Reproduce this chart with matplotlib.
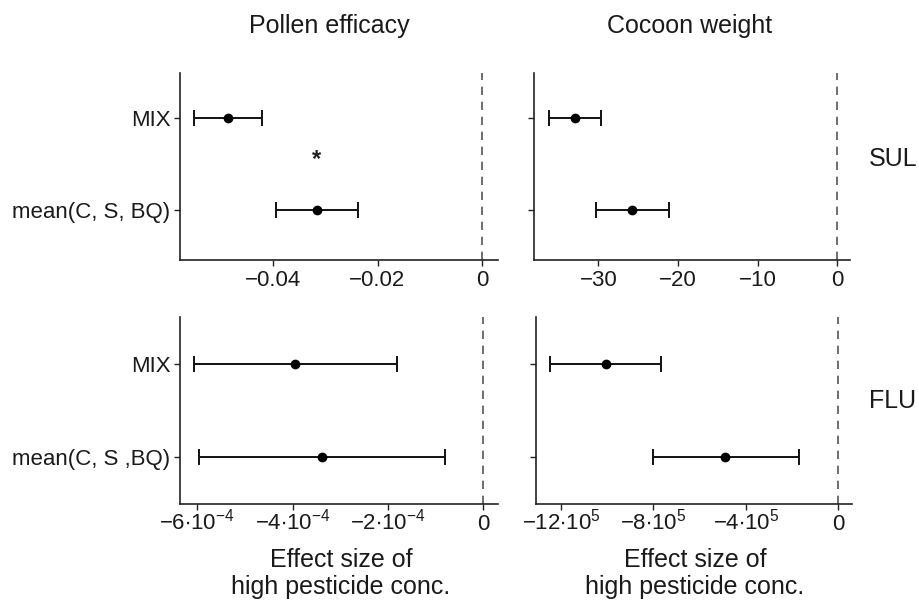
import matplotlib
matplotlib.use("Agg")
import matplotlib.pyplot as plt

plt.rcParams['font.family'] = ['Liberation Sans', 'DejaVu Sans']
plt.rcParams['mathtext.fontset'] = 'custom'
plt.rcParams['mathtext.rm'] = 'Liberation Sans'
plt.rcParams['mathtext.it'] = 'Liberation Sans:italic'
plt.rcParams['mathtext.bf'] = 'Liberation Sans:bold'

categories_top = ["MIX", "mean(C, S, BQ)"]
categories_bot = ["MIX", "mean(C, S ,BQ)"]

# Pollen efficacy, SUL
pe_sul_est = [-0.0486, -0.0316]
pe_sul_lo = [-0.0550, -0.0394]
pe_sul_hi = [-0.0421, -0.0238]
# Cocoon weight, SUL
cw_sul_est = [-33.0, -25.8]
cw_sul_lo = [-36.2, -30.3]
cw_sul_hi = [-29.7, -21.1]
# Pollen efficacy, FLU
pe_flu_est = [-3.95e-4, -3.38e-4]
pe_flu_lo = [-6.07e-4, -5.96e-4]
pe_flu_hi = [-1.81e-4, -0.81e-4]
# Cocoon weight, FLU
cw_flu_est = [-10.05e5, -4.90e5]
cw_flu_lo = [-12.48e5, -8.02e5]
cw_flu_hi = [-7.67e5, -1.69e5]

pe_sul_ticks = [-0.04, -0.02, 0]
pe_sul_labels = ["\u22120.04", "\u22120.02", "0"]
cw_sul_ticks = [-30, -20, -10, 0]
cw_sul_labels = ["\u221230", "\u221220", "\u221210", "0"]
pe_flu_ticks = [-6e-4, -4e-4, -2e-4, 0]
pe_flu_labels = ["\u2212" + r"$\mathregular{6{\bullet}10^{-4}}$",
                 "\u2212" + r"$\mathregular{4{\bullet}10^{-4}}$",
                 "\u2212" + r"$\mathregular{2{\bullet}10^{-4}}$", "0"]
cw_flu_ticks = [-12e5, -8e5, -4e5, 0]
cw_flu_labels = ["\u2212" + r"$\mathregular{12{\bullet}10^{5}}$",
                 "\u2212" + r"$\mathregular{8{\bullet}10^{5}}$",
                 "\u2212" + r"$\mathregular{4{\bullet}10^{5}}$", "0"]

col_titles = ["Pollen efficacy", "Cocoon weight"]
row_labels = ["SUL", "FLU"]
xlabel_lines = ["Effect size of", "high pesticide conc."]

W, H = 919, 600
fig = plt.figure(figsize=(W / 100, H / 100), dpi=100)

def ax_at(l, r, t, b):
    return fig.add_axes([l / W, 1 - b / H, (r - l) / W, (b - t) / H])

axes = [
    ax_at(180, 498, 73, 260),
    ax_at(534, 850, 73, 260),
    ax_at(180, 498, 317, 504),
    ax_at(536, 852, 317, 504),
]

panels = [
    (pe_sul_est, pe_sul_lo, pe_sul_hi, pe_sul_ticks, pe_sul_labels, (-0.0577, 0.003), categories_top, True),
    (cw_sul_est, cw_sul_lo, cw_sul_hi, cw_sul_ticks, cw_sul_labels, (-38.1, 1.6), categories_top, False),
    (pe_flu_est, pe_flu_lo, pe_flu_hi, pe_flu_ticks, pe_flu_labels, (-6.36e-4, 0.31e-4), categories_bot, True),
    (cw_flu_est, cw_flu_lo, cw_flu_hi, cw_flu_ticks, cw_flu_labels, (-13.09e5, 0.6e5), categories_bot, False),
]

ypos = [1, 0]
for i, (ax, (est, lo, hi, ticks, tlabels, xlim, cats, showlab)) in enumerate(zip(axes, panels)):
    ax.axvline(0, color='#555555', linestyle=(0, (5, 4)), linewidth=1.2, zorder=1)
    xerr = [[e - l for e, l in zip(est, lo)], [h - e for e, h in zip(est, hi)]]
    ax.errorbar(est, ypos, xerr=xerr, fmt='o', color='black', ecolor='#111111',
                markersize=6, elinewidth=1.4, capsize=6, capthick=1.4, zorder=3)
    ax.set_xlim(*xlim)
    ax.set_ylim(-0.54 if i < 2 else -0.505, 1.49 if i < 2 else 1.505)
    ax.set_xticks(ticks)
    ax.set_xticklabels(tlabels)
    ax.set_yticks(ypos)
    ax.set_yticklabels(cats if showlab else ["", ""])
    for s in ['top', 'right']:
        ax.spines[s].set_visible(False)
    for s in ['left', 'bottom']:
        ax.spines[s].set_linewidth(1.2)
        ax.spines[s].set_color('#222222')
    ax.tick_params(axis='both', labelsize=16, colors='#222222', length=4, width=1.0,
                   labelcolor='#1a1a1a', pad=3)
    ax.tick_params(axis='x', pad=14.5)
    for lab in ax.get_xticklabels():
        lab.set_verticalalignment('baseline')

# significance star
axes[0].text(pe_sul_est[1], 0.55, "*", ha='center', va='center', fontsize=17,
             fontweight='bold', color='#222222')

TFS = 18
tcol = '#1a1a1a'
fig.text(329.5 / W, 1 - 33 / H, col_titles[0], ha='center', va='baseline', fontsize=TFS, color=tcol)
fig.text(690 / W, 1 - 33 / H, col_titles[1], ha='center', va='baseline', fontsize=TFS, color=tcol)
fig.text(893 / W, 1 - 166 / H, row_labels[0], ha='center', va='baseline', fontsize=TFS, color=tcol)
fig.text(893 / W, 1 - 408 / H, row_labels[1], ha='center', va='baseline', fontsize=TFS, color=tcol)
for cx in (341, 695):
    fig.text(cx / W, 1 - 567 / H, xlabel_lines[0], ha='center', va='baseline', fontsize=TFS, color=tcol)
    fig.text(cx / W, 1 - 594 / H, xlabel_lines[1], ha='center', va='baseline', fontsize=TFS, color=tcol)

fig.savefig("out.png", dpi=100, facecolor='white')
